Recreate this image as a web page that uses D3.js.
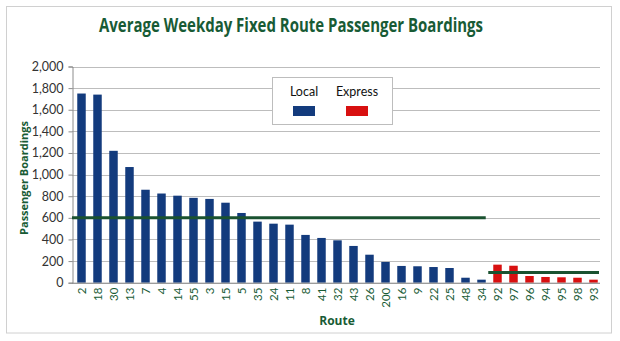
<!DOCTYPE html>
<html><head><meta charset="utf-8">
<script src="https://cdn.jsdelivr.net/npm/d3@7"></script>
<style>body{margin:0;background:#fff;} svg{display:block;font-family:Lato,"Open Sans",sans-serif;}</style>
</head><body>
<svg id="c" width="620" height="341"></svg>
<script>
const routes = ["2","18","30","13","7","4","14","55","3","15","5","35","24","11","8","41","32","43","26","200","16","9","22","25","48","34","92","97","96","94","95","98","93"];
const boardings = [1750,1740,1220,1070,860,825,805,785,775,740,645,565,546,537,442,414,392,340,259,192,155,152,145,136,46,28,167,157,62,53,50,46,28];
const routeType = ["Local","Local","Local","Local","Local","Local","Local","Local","Local","Local","Local","Local","Local","Local","Local","Local","Local","Local","Local","Local","Local","Local","Local","Local","Local","Local","Express","Express","Express","Express","Express","Express","Express"];
const seriesNames = ["Local","Express"];
const seriesColors = ["#133b7d","#d81010"];
const averages = [600, 95];
const yTicks = [0,200,400,600,800,1000,1200,1400,1600,1800,2000];

const svg = d3.select("#c");
const green = "#185b35";
const boldFont = "'Open Sans', 'Liberation Sans', sans-serif";
const M = {left:72, right:600, top:66.5, bottom:282.7};

svg.append("rect").attr("x",6.5).attr("y",6.5).attr("width",605).attr("height",326.5)
  .attr("fill","#fff").attr("stroke","#d0d0d0").attr("stroke-width",1);

const x = d3.scaleBand().domain(routes).range([M.left+1.5, M.right+1.5]).paddingInner(0.47).paddingOuter(0.235);
const y = d3.scaleLinear().domain([0,2000]).range([M.bottom, M.top]);
const color = d3.scaleOrdinal().domain(seriesNames).range(seriesColors);

// gridlines
svg.append("g").selectAll("line").data(yTicks).join("line")
  .attr("x1",M.left).attr("x2",M.right)
  .attr("y1",d=>Math.round(y(d))+0.5).attr("y2",d=>Math.round(y(d))+0.5)
  .attr("stroke","#bdbdbd").attr("stroke-width",1);

// y axis
const ya = svg.append("g").attr("transform",`translate(${M.left+0.5},0)`)
  .call(d3.axisLeft(y).tickValues(yTicks).tickFormat(d3.format(",")).tickSize(4).tickPadding(5));
ya.select(".domain").attr("stroke","#8c8c8c");
ya.selectAll(".tick line").attr("stroke","#8c8c8c");
ya.selectAll(".tick text").attr("font-size",12.5).attr("fill","#333").attr("font-family","Lato, sans-serif");

// bars
const data = routes.map((r,i)=>({r, v:boardings[i], t:routeType[i]}));
svg.append("g").selectAll("rect").data(data).join("rect")
  .attr("x",d=>x(d.r)).attr("width",x.bandwidth())
  .attr("y",d=>y(d.v)).attr("height",d=>y(0)-y(d.v))
  .attr("fill",d=>color(d.t));

// x axis
const xa = svg.append("g").attr("transform",`translate(0,${M.bottom})`)
  .call(d3.axisBottom(x).tickSize(0).tickPadding(0));
xa.select(".domain").attr("stroke","#8c8c8c").attr("d",`M${M.left},0.5H${M.right}`);
xa.selectAll(".tick text").attr("transform","rotate(-90)")
  .attr("text-anchor","end").attr("x",-5).attr("y",0).attr("dy","0.35em")
  .attr("font-size",11.5).attr("fill",green).attr("font-family","Lato, sans-serif");

// average lines
const locals = routes.filter((r,i)=>routeType[i]==="Local");
const express = routes.filter((r,i)=>routeType[i]==="Express");
const avgLines = [
  {x1:M.left, x2:x(locals[locals.length-1])+x.bandwidth(), v:averages[0]},
  {x1:x(express[0])-5, x2:M.right-1, v:averages[1]}
];
svg.append("g").selectAll("line").data(avgLines).join("line")
  .attr("x1",d=>d.x1).attr("x2",d=>d.x2).attr("y1",d=>y(d.v)).attr("y2",d=>y(d.v))
  .attr("stroke","#1a5230").attr("stroke-width",3);

// legend
const lg = svg.append("g");
lg.append("rect").attr("x",272.5).attr("y",77.5).attr("width",120).attr("height",47)
  .attr("fill","#fff").attr("stroke","#bdbdbd");
const lx = [304, 357];
seriesNames.forEach((s,i)=>{
  lg.append("text").attr("x",lx[i]).attr("y",96).attr("text-anchor","middle")
    .attr("font-size",12.5).attr("fill","#111").text(s);
  lg.append("rect").attr("x",lx[i]-11).attr("y",106).attr("width",22).attr("height",10).attr("fill",seriesColors[i]);
});

// titles
svg.append("text").attr("x",291).attr("y",32).attr("text-anchor","middle")
  .attr("font-size",20).attr("font-weight","bold").attr("fill",green).attr("font-family",boldFont)
  .attr("textLength",384).attr("lengthAdjust","spacingAndGlyphs")
  .text("Average Weekday Fixed Route Passenger Boardings");
svg.append("text").attr("transform","translate(28,178) rotate(-90)").attr("text-anchor","middle")
  .attr("font-size",11).attr("font-weight","bold").attr("fill",green).attr("font-family",boldFont)
  .text("Passenger Boardings");
svg.append("text").attr("x",337).attr("y",325).attr("text-anchor","middle")
  .attr("font-size",12).attr("font-weight","bold").attr("fill",green).attr("font-family",boldFont).text("Route");
</script>
</body></html>
